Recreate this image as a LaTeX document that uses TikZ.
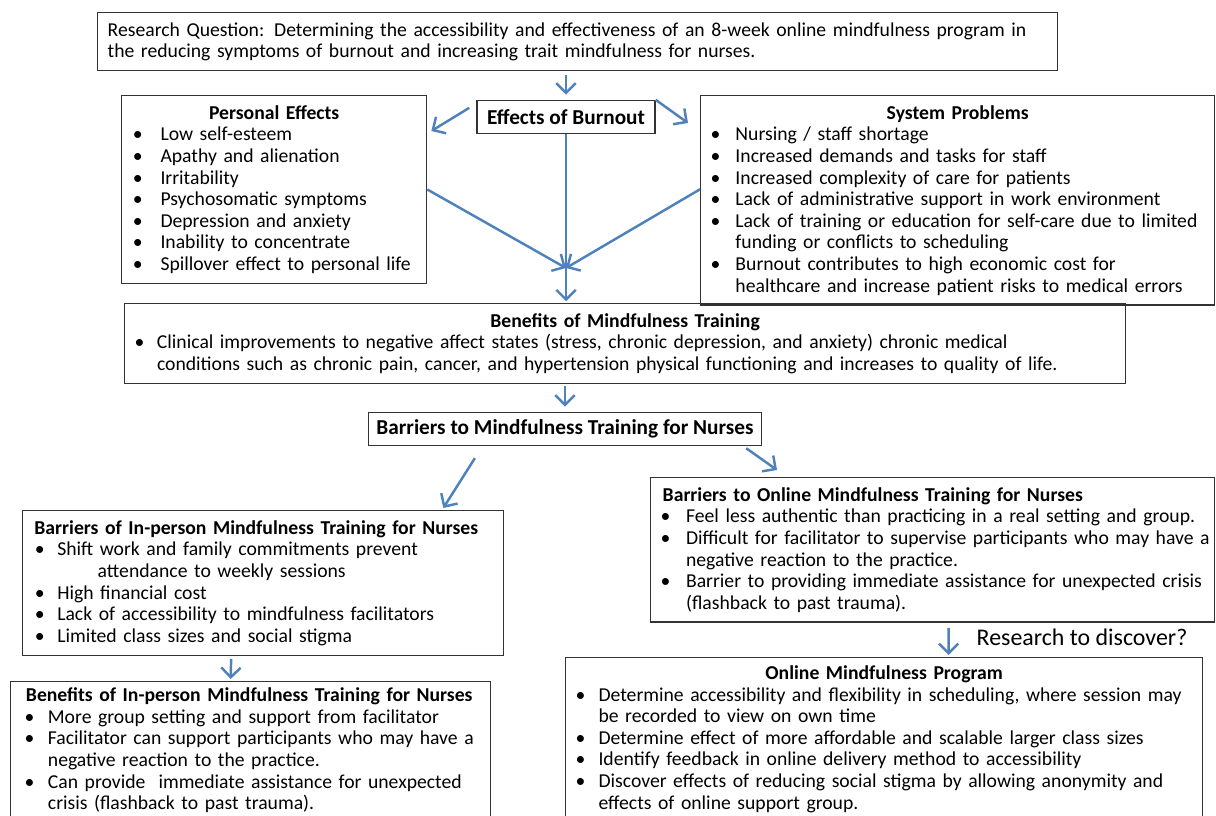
\documentclass[tikz,border=0pt]{standalone}
\usepackage{fontspec}
\setmainfont{Carlito}
\usetikzlibrary{arrows.meta}
\definecolor{arrowblue}{RGB}{79,129,189}
\setlength{\parindent}{0pt}
\newlength{\bulx}
\newlength{\bulw}
\newcommand{\itm}{\hspace*{\bulx}\makebox[\bulw][l]{\textbullet}}
\newcommand{\cont}{\hspace*{\bulx}\hspace*{\bulw}}
\newcommand{\boxtitle}[1]{\makebox[\hsize][c]{\bfseries #1}}
\tikzset{
  box/.style={draw=black!80, line width=0.8pt, anchor=north west, align=left,
    inner xsep=0.2cm, inner ysep=5.5pt, text width=#1},
  items/.style 2 args={execute at begin node={\setlength{\bulx}{#1}\setlength{\bulw}{#2}}},
  headbox/.style={draw=black!80, line width=0.8pt, font=\fontsize{12.1}{14}\selectfont\bfseries, minimum height=0.66cm},
  arr/.style={draw=arrowblue, line width=1.4pt, -{Straight Barb[length=5.5pt,width=11pt]}},
}

\begin{document}
\begin{tikzpicture}[x=0.02cm, y=-0.02cm, font=\fontsize{11.2}{12.3}\selectfont]
  \useasboundingbox (0,0) rectangle (1216,815);

  % research question
  \node[box=18.8cm] (question) at (97,12) {Research Question: Determining the accessibility and effectiveness of an 8-week online mindfulness program in\\
    the reducing symptoms of burnout and increasing trait mindfulness for nurses.};

  % burnout and what it does
  \node[headbox, minimum width=3.56cm] (burnout) at (566,117) {Effects of Burnout};
  \node[box=5.7cm, items={0.6pt}{15.8pt}] (personal) at (121,95) {\boxtitle{Personal Effects}\\
    \itm Low self-esteem\\
    \itm Apathy and alienation\\
    \itm Irritability\\
    \itm Psychosomatic symptoms\\
    \itm Depression and anxiety\\
    \itm Inability to concentrate\\
    \itm Spillover effect to personal life};
  \node[box=9.88cm, items={0pt}{14.1pt}] (system) at (700,95) {\boxtitle{System Problems}\\
    \itm Nursing / staff shortage\\
    \itm Increased demands and tasks for staff\\
    \itm Increased complexity of care for patients\\
    \itm Lack of administrative support in work environment\\
    \itm Lack of training or education for self-care due to limited\\
    \cont funding or conflicts to scheduling\\
    \itm Burnout contributes to high economic cost for\\
    \cont healthcare and increase patient risks to medical errors};
  \coordinate (meet) at (566,268);

  % mindfulness training
  \node[box=19.62cm, items={0pt}{12.7pt}] (benefits) at (124,303) {\boxtitle{Benefits of Mindfulness Training}\\
    \itm Clinical improvements to negative affect states (stress, chronic depression, and anxiety) chronic medical\\
    \cont conditions such as chronic pain, cancer, and hypertension physical functioning and increases to quality of life.};
  \node[headbox, minimum width=7.86cm] (barriers) at (565,429) {Barriers to Mindfulness Training for Nurses};

  % in-person side
  \node[box=9.22cm, items={1.2pt}{12.8pt}] (ipbar) at (22,510) {\hspace*{1pt}\textbf{Barriers of In-person Mindfulness Training for Nurses}\\
    \itm Shift work and family commitments prevent\\
    \cont\hspace*{23pt}attendance to weekly sessions\\
    \itm High financial cost\\
    \itm Lack of accessibility to mindfulness facilitators\\
    \itm Limited class sizes and social stigma};
  \node[box=9.2cm, inner ysep=3.5pt, items={2.2pt}{13.3pt}] (ipben) at (10,681) {\hspace*{3pt}\textbf{Benefits of In-person Mindfulness Training for Nurses}\\
    \itm More group setting and support from facilitator\\
    \itm Facilitator can support participants who may have a\\
    \cont negative reaction to the practice.\\
    \itm Can provide\ \ immediate assistance for unexpected\\
    \cont crisis (flashback to past trauma).};

  % online side
  \node[box=11.08cm, inner xsep=0.1cm, items={2.8pt}{14.5pt}] (olbar) at (650,477) {\hspace*{4pt}\textbf{Barriers to Online Mindfulness Training for Nurses}\\
    \itm Feel less authentic than practicing in a real setting and group.\\
    \itm \mbox{Difficult for facilitator to supervise participants who may have a}\\
    \cont negative reaction to the practice.\\
    \itm Barrier to providing immediate assistance for unexpected crisis\\
    \cont (flashback to past trauma).};
  \node[font=\fontsize{13.6}{15}\selectfont] (discover) at (1082,637) {Research to discover?};
  \node[box=12.34cm, inner ysep=4.5pt, items={0pt}{13pt}] (program) at (565,657) {\boxtitle{Online Mindfulness Program}\\
    \itm Determine accessibility and flexibility in scheduling, where session may\\
    \cont be recorded to view on own time\\
    \itm Determine effect of more affordable and scalable larger class sizes\\
    \itm Identify feedback in online delivery method to accessibility\\
    \itm Discover effects of reducing social stigma by allowing anonymity and\\
    \cont effects of online support group.};

  % arrows
  \draw[arr, shorten <=2pt, shorten >=3pt] (burnout.north |- question.south) -- (burnout.north);
  \draw[arr] ([shift={(-7,8)}]burnout.north west) -- ([shift={(4,36)}]personal.north east);
  \draw[arr] (burnout.north east) -- ([shift={(-12,28)}]system.north west);
  \draw[arr] (personal.east) -- (meet);
  \draw[arr] ([shift={(0,-11)}]system.west) -- (meet);
  \draw[arr, shorten >=1pt] (burnout.south) -- (burnout.south |- benefits.north);
  \draw[arr, shorten <=1pt, shorten >=3pt] (barriers.north |- benefits.south) -- (barriers.north);
  \draw[arr] ([shift={(107,12)}]barriers.south west) -- ([shift={(-61,-2)}]ipbar.north east);
  \draw[arr] ([shift={(-16,2)}]barriers.south east) -- ([shift={(127,-7)}]olbar.north west);
  \draw[arr] ([shift={(-32,3)}]ipbar.south) -- ([shift={(-20,-2)}]ipben.north);
  \draw[arr] ([shift={(16,5)}]olbar.south) -- ([shift={(64.5,-2)}]program.north);
\end{tikzpicture}
\end{document}
